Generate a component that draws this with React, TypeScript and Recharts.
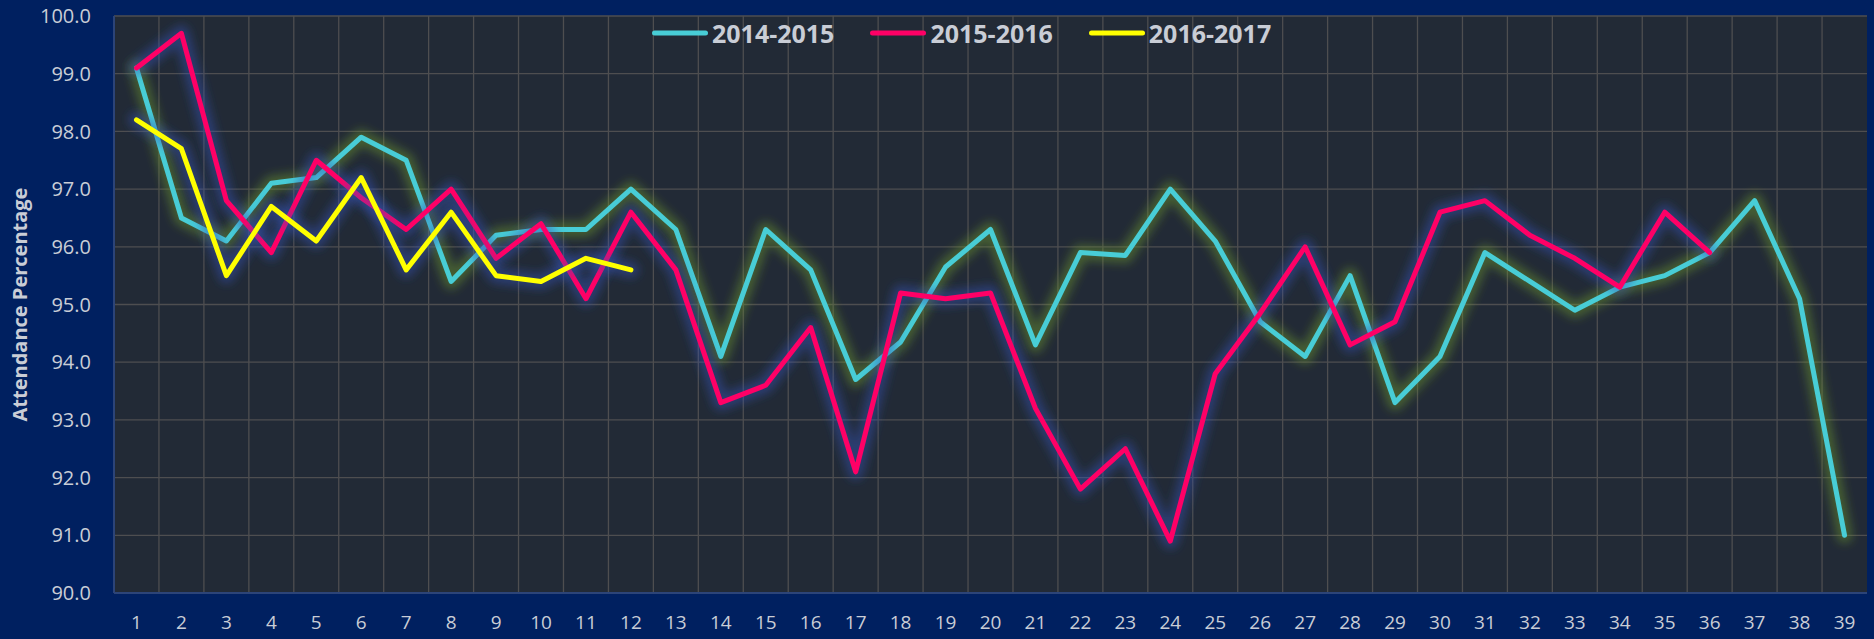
import { LineChart, Line, XAxis, YAxis, CartesianGrid, Legend } from "recharts";

const weeks = Array.from({ length: 39 }, (_, i) => String(i + 1));

const att2014 = [
  99.1, 96.5, 96.1, 97.1, 97.2, 97.9, 97.5, 95.4, 96.2, 96.3, 96.3, 97.0, 96.3, 94.1, 96.3, 95.6, 93.7, 94.35, 95.65, 96.3,
  94.3, 95.9, 95.85, 97.0, 96.1, 94.7, 94.1, 95.5, 93.3, 94.1, 95.9, 95.4, 94.9, 95.3, 95.5, 95.9, 96.8, 95.1, 91.0,
];
const att2015 = [
  99.1, 99.7, 96.8, 95.9, 97.5, 96.85, 96.3, 97.0, 95.8, 96.4, 95.1, 96.6, 95.6, 93.3, 93.6, 94.6, 92.1, 95.2, 95.1, 95.2,
  93.2, 91.8, 92.5, 90.9, 93.8, 94.85, 96.0, 94.3, 94.7, 96.6, 96.8, 96.2, 95.8, 95.3, 96.6, 95.9,
];
const att2016 = [98.2, 97.7, 95.5, 96.7, 96.1, 97.2, 95.6, 96.6, 95.5, 95.4, 95.8, 95.6];

const yTicks = [90, 91, 92, 93, 94, 95, 96, 97, 98, 99, 100];

const seriesInfo = [
  { key: "s2014", name: "2014-2015", color: "#48cdd6", glow: "#6f9a2c" },
  { key: "s2015", name: "2015-2016", color: "#ff0066", glow: "#3552b8" },
  { key: "s2016", name: "2016-2017", color: "#ffff00", glow: "#3552b8" },
];

const data = weeks.map((w, i) => ({
  week: w,
  s2014: att2014[i] ?? null,
  s2015: att2015[i] ?? null,
  s2016: att2016[i] ?? null,
}));

const FONT = "'Open Sans', 'DejaVu Sans', sans-serif";
const TEXT = "#c9cdd6";

const W = 1874;
const H = 639;

function LegendBox() {
  return (
    <div style={{ display: "flex", alignItems: "center", fontFamily: FONT }}>
      {seriesInfo.map((s) => (
        <div key={s.key} style={{ display: "flex", alignItems: "center", marginRight: 36 }}>
          <svg width={56} height={10}>
            <line x1={2.5} y1={5} x2={53.5} y2={5} stroke={s.color} strokeWidth={5} strokeLinecap="round" />
          </svg>
          <span style={{ color: TEXT, fontWeight: 700, fontSize: 25, marginLeft: 4, lineHeight: "30px" }}>{s.name}</span>
        </div>
      ))}
    </div>
  );
}

function YTitle(props: any) {
  const vb = props.viewBox || {};
  const cy = vb.y + vb.height / 2;
  return (
    <text
      x={19}
      y={cy}
      transform={`rotate(-90, 19, ${cy})`}
      textAnchor="middle"
      dominantBaseline="central"
      fill={TEXT}
      fontFamily={FONT}
      fontWeight={700}
      fontSize={20}
    >
      Attendance Percentage
    </text>
  );
}

export default function App() {
  return (
    <div style={{ position: "absolute", left: 0, top: 0, width: W, height: H, background: "#002060" }}>
      <LineChart width={W} height={H} data={data} margin={{ top: 16, right: 7, left: 0, bottom: 0 }}>
        <defs>
          <filter id="glowBlur" x="-5%" y="-20%" width="110%" height="140%">
            <feGaussianBlur stdDeviation="5" />
          </filter>
        </defs>
        <CartesianGrid
          fill="#222a36"
          fillOpacity={1}
          stroke="#4e4e50"
          strokeWidth={1.3}
          verticalCoordinatesGenerator={({ offset }: any) =>
            weeks.slice(1).map((_, i) => offset.left + ((i + 1) * offset.width) / weeks.length)
          }
        />
        <XAxis
          dataKey="week"
          scale="band"
          height={46}
          tickSize={0}
          tickMargin={23}
          interval={0}
          axisLine={{ stroke: "#2c4478", strokeWidth: 2 }}
          tick={{ fill: TEXT, fontSize: 19, fontFamily: FONT }}
        />
        <XAxis xAxisId="top" orientation="top" dataKey="week" scale="band" height={0} tick={false} tickSize={0} axisLine={{ stroke: "#2c4478", strokeWidth: 2 }} />
        <YAxis
          domain={[90, 100]}
          ticks={yTicks}
          width={114}
          tickSize={0}
          tickMargin={23}
          interval={0}
          tickFormatter={(v: number) => v.toFixed(1)}
          axisLine={{ stroke: "#2c4478", strokeWidth: 2 }}
          tick={{ fill: TEXT, fontSize: 20, fontFamily: FONT }}
          label={{ content: YTitle }}
        />
        <YAxis yAxisId="right" orientation="right" domain={[90, 100]} width={0} tick={false} tickSize={0} axisLine={{ stroke: "#2c4478", strokeWidth: 2 }} />
        <Legend
          verticalAlign="middle"
          layout="horizontal"
          content={() => <LegendBox />}
          wrapperStyle={{ top: 18, left: 652, width: "auto" }}
        />
        {seriesInfo.flatMap((s) => [
          <Line
            key={s.key + "-glow"}
            type="linear"
            dataKey={s.key}
            stroke={s.glow}
            strokeOpacity={0.45}
            strokeWidth={16}
            strokeLinejoin="round"
            strokeLinecap="round"
            filter="url(#glowBlur)"
            dot={false}
            activeDot={false}
            legendType="none"
            isAnimationActive={false}
          />,
          <Line
            key={s.key}
            type="linear"
            dataKey={s.key}
            name={s.name}
            stroke={s.color}
            strokeWidth={5}
            strokeLinejoin="round"
            strokeLinecap="round"
            dot={false}
            activeDot={false}
            isAnimationActive={false}
          />,
        ])}
      </LineChart>
    </div>
  );
}
